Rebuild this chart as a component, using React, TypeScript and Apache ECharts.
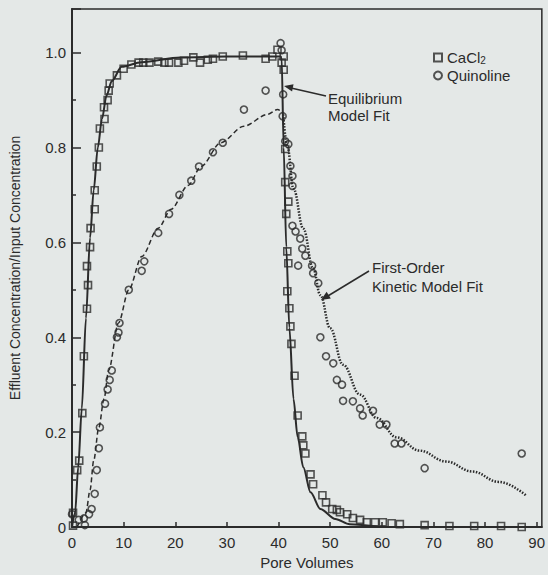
import React, { useEffect, useRef } from "react";
import * as echarts from "echarts";

const INK = "#2b2b2b";
const BG = "#e4e8e7";

// CaCl2 measured (pore volumes, C/C0)
const cacl2X = [0.2, 0.2, 1.0, 1.4, 2.0, 2.3, 2.9, 3.1, 2.9, 3.5, 3.6, 4.4, 4.4, 4.8, 5.2, 5.4, 6.3, 6.2, 6.9, 7.1, 7.3, 8.7, 10, 11.5, 12.9, 13.8, 15, 16.7, 17.9, 18.8, 20.6, 21.7, 23.5, 24.8, 26.3, 27.3, 29.2, 33.1, 37.5, 38.8, 39.8, 41.0, 40.6, 41.0, 41.3, 41.3, 41.9, 41.5, 41.7, 41.9, 41.7, 42.1, 42.3, 42.5, 43.1, 43.7, 44.6, 44.8, 45.2, 46.2, 46.7, 48.5, 49.2, 50.4, 51.3, 51.9, 53.3, 54.4, 55.8, 57.1, 58.7, 60.2, 61.9, 63.5, 68.3, 73.1, 77.9, 83.1, 87.1];
const cacl2Y = [0.003, 0.03, 0.12, 0.14, 0.24, 0.36, 0.46, 0.51, 0.55, 0.59, 0.63, 0.67, 0.71, 0.76, 0.8, 0.84, 0.86, 0.885, 0.9, 0.92, 0.935, 0.952, 0.966, 0.975, 0.979, 0.979, 0.979, 0.981, 0.979, 0.979, 0.979, 0.983, 0.99, 0.979, 0.985, 0.987, 0.992, 0.994, 0.987, 0.992, 1.006, 0.992, 0.979, 0.964, 0.797, 0.727, 0.686, 0.66, 0.581, 0.556, 0.497, 0.461, 0.423, 0.386, 0.319, 0.235, 0.191, 0.172, 0.155, 0.111, 0.09, 0.067, 0.052, 0.038, 0.036, 0.031, 0.027, 0.019, 0.015, 0.01, 0.01, 0.01, 0.008, 0.006, 0.004, 0.002, 0.002, 0.002, 0.0];

// Quinoline measured
const quinX = [0, 1.3, 2.3, 2.5, 3.3, 3.8, 4.4, 4.8, 5.2, 5.4, 6.4, 6.9, 7.3, 7.7, 8.7, 9.0, 9.2, 11, 13.5, 14, 16.7, 18.8, 20.8, 23.1, 24.6, 27.3, 29.2, 33.3, 37.5, 40.4, 40.6, 40.9, 40.8, 41.3, 41.9, 42.3, 42.7, 42.7, 42.7, 43.3, 44.2, 44.6, 45.2, 43.8, 46.5, 46.7, 47.7, 48.1, 49.2, 50.6, 51.3, 52.3, 52.5, 54.4, 55.8, 56.3, 58.3, 59.6, 60.9, 62.5, 63.8, 68.3, 87.1];
const quinY = [0.027, 0.015, 0.018, 0.004, 0.027, 0.038, 0.07, 0.12, 0.166, 0.21, 0.26, 0.29, 0.31, 0.33, 0.4, 0.41, 0.43, 0.5, 0.54, 0.56, 0.62, 0.66, 0.7, 0.73, 0.76, 0.79, 0.81, 0.88, 0.92, 1.02, 1.005, 0.912, 0.866, 0.813, 0.807, 0.761, 0.74, 0.719, 0.635, 0.623, 0.608, 0.587, 0.572, 0.551, 0.551, 0.535, 0.514, 0.4, 0.36, 0.345, 0.31, 0.3, 0.266, 0.265, 0.25, 0.235, 0.245, 0.216, 0.216, 0.176, 0.176, 0.124, 0.155];

// Equilibrium model fit (CaCl2), solid
const eqFitX = [0, 0.6, 1.2, 1.9, 2.7, 3.5, 4.2, 5.0, 5.8, 6.7, 7.7, 9.6, 13.5, 21, 30, 40.4, 40.6, 41.0, 41.5, 42.1, 42.9, 43.7, 44.8, 46.2, 48.1, 51, 53.8, 59.6];
const eqFitY = [0, 0.03, 0.126, 0.25, 0.44, 0.61, 0.71, 0.8, 0.86, 0.91, 0.94, 0.97, 0.98, 0.99, 0.992, 0.992, 0.99, 0.8, 0.59, 0.42, 0.27, 0.19, 0.126, 0.073, 0.038, 0.017, 0.006, 0];

// Quinoline equilibrium fit, dashed
const qFitX = [1.0, 2.7, 3.5, 4.2, 5.2, 6.2, 7.1, 9.0, 11, 13.5, 16.7, 19.2, 22.5, 25, 28.8, 33.3, 37.9, 39.8, 40.8];
const qFitY = [0, 0.03, 0.078, 0.14, 0.21, 0.27, 0.33, 0.43, 0.5, 0.57, 0.63, 0.67, 0.72, 0.76, 0.81, 0.845, 0.87, 0.88, 0.874];

// First-order kinetic model fit, dotted
const kinX = [40.9, 41.7, 42.9, 44.8, 46.7, 48.1, 50.0, 52.5, 55.8, 59.0, 62.9, 67.3, 72.5, 77.5, 82.7, 87.9];
const kinY = [0.87, 0.803, 0.713, 0.629, 0.545, 0.489, 0.419, 0.342, 0.279, 0.23, 0.189, 0.161, 0.138, 0.117, 0.095, 0.067];

const xTicks = [0, 10, 20, 30, 40, 50, 60, 70, 80, 90];
const yTicks = [0, 0.2, 0.4, 0.6, 0.8, 1.0];

const zip = (xs: number[], ys: number[]) => xs.map((x, i) => [x, ys[i]]);

const FONT = "'Liberation Sans', Arial, sans-serif";

export default function App() {
  const ref = useRef<HTMLDivElement>(null);
  useEffect(() => {
    if (!ref.current) return;
    const chart = echarts.init(ref.current, null, { renderer: "svg" });
    chart.setOption({
      animation: false,
      backgroundColor: BG,
      textStyle: { fontFamily: FONT, color: INK },
      grid: { left: 70, right: 5, top: 9, bottom: 45, show: true, borderColor: INK, borderWidth: 1.5, backgroundColor: "transparent" },
      legend: {
        data: ["CaCl2", "Quinoline"],
        orient: "vertical",
        left: 428,
        top: 45,
        itemWidth: 8,
        itemHeight: 8,
        itemGap: 3,
        textStyle: {
          fontSize: 15,
          color: INK,
          fontFamily: FONT,
          lineHeight: 15,
          rich: { sub: { fontSize: 10, fontFamily: FONT, color: INK, verticalAlign: "bottom", padding: [7, 0, 0, 0] } },
        },
        formatter: (n: string) => (n === "CaCl2" ? "CaCl{sub|2}" : n),
      },
      xAxis: {
        type: "value",
        min: 0,
        max: 91,
        interval: 10,
        name: "Pore Volumes",
        nameLocation: "middle",
        nameGap: 28,
        nameTextStyle: { fontSize: 15, color: INK, fontFamily: FONT },
        axisLine: { show: true, lineStyle: { color: INK, width: 2 } },
        axisTick: { show: true, inside: true, length: 5, lineStyle: { color: INK, width: 1.5 } },
        axisLabel: {
          fontSize: 15,
          color: INK,
          margin: 8,
          showMaxLabel: false,
          formatter: (v: number) => (xTicks.includes(v) ? String(v) : ""),
        },
        splitLine: { show: false },
      },
      yAxis: {
        type: "value",
        min: 0,
        max: 1.092,
        interval: 0.2,
        name: "Effluent Concentration/Input Concentration",
        nameLocation: "middle",
        nameGap: 50,
        nameTextStyle: { fontSize: 14, color: INK, fontFamily: FONT },
        axisLine: { show: true, lineStyle: { color: INK, width: 2 } },
        axisTick: { show: true, inside: true, length: 9, lineStyle: { color: INK, width: 1.5 } },
        minorTick: { show: true, splitNumber: 2, length: 4, lineStyle: { color: INK, width: 1.5 } },
        axisLabel: {
          fontSize: 15,
          color: INK,
          margin: 6,
          showMaxLabel: false,
          formatter: (v: number) => {
            const t = yTicks.find((k) => Math.abs(k - v) < 1e-6);
            if (t === undefined) return "";
            return t === 0 ? "0" : t.toFixed(1);
          },
        },
        splitLine: { show: false },
      },
      series: [
        {
          name: "Equilibrium Model Fit",
          type: "line",
          data: zip(eqFitX, eqFitY),
          showSymbol: false,
          smooth: 0.3,
          smoothMonotone: "x",
          lineStyle: { color: INK, width: 2 },
          z: 2,
        },
        {
          name: "Quinoline Fit",
          type: "line",
          data: zip(qFitX, qFitY),
          showSymbol: false,
          smooth: 0.3,
          smoothMonotone: "x",
          lineStyle: { color: INK, width: 1.5, type: [5, 3] },
          z: 2,
        },
        {
          name: "First-Order Kinetic Model Fit",
          type: "line",
          data: zip(kinX, kinY),
          showSymbol: false,
          smooth: 0.4,
          smoothMonotone: "x",
          lineStyle: { color: INK, width: 2.5, type: [1.5, 1.5] },
          z: 2,
        },
        {
          name: "CaCl2",
          type: "scatter",
          data: zip(cacl2X, cacl2Y),
          symbol: "rect",
          symbolSize: 7,
          itemStyle: { color: "rgba(0,0,0,0)", borderColor: INK, borderWidth: 1.6 },
          z: 3,
        },
        {
          name: "Quinoline",
          type: "scatter",
          data: zip(quinX, quinY),
          symbol: "circle",
          symbolSize: 7,
          itemStyle: { color: "rgba(0,0,0,0)", borderColor: INK, borderWidth: 1.6 },
          z: 3,
        },
      ],
      graphic: [
        { type: "text", left: 328, top: 90, style: { text: "Equilibrium\nModel Fit", fontSize: 15, lineHeight: 17, fill: INK, fontFamily: FONT } },
        { type: "line", shape: { x1: 326, y1: 96, x2: 291, y2: 88 }, style: { stroke: INK, lineWidth: 1.5 } },
        { type: "polygon", shape: { points: [[284, 86], [293.5, 84.3], [292.1, 91.5]] }, style: { fill: INK } },
        { type: "text", left: 372, top: 258, style: { text: "First-Order\nKinetic Model Fit", fontSize: 15, lineHeight: 19, fill: INK, fontFamily: FONT } },
        { type: "line", shape: { x1: 369, y1: 271, x2: 327, y2: 296.5 }, style: { stroke: INK, lineWidth: 1.5 } },
        { type: "polygon", shape: { points: [[321, 300], [330.8, 298.5], [326.6, 291.8]] }, style: { fill: INK } },
      ],
    });
    return () => chart.dispose();
  }, []);
  return (
    <div
      ref={ref}
      style={{ position: "absolute", left: 0, top: 0, width: 548, height: 575, background: BG }}
    />
  );
}
